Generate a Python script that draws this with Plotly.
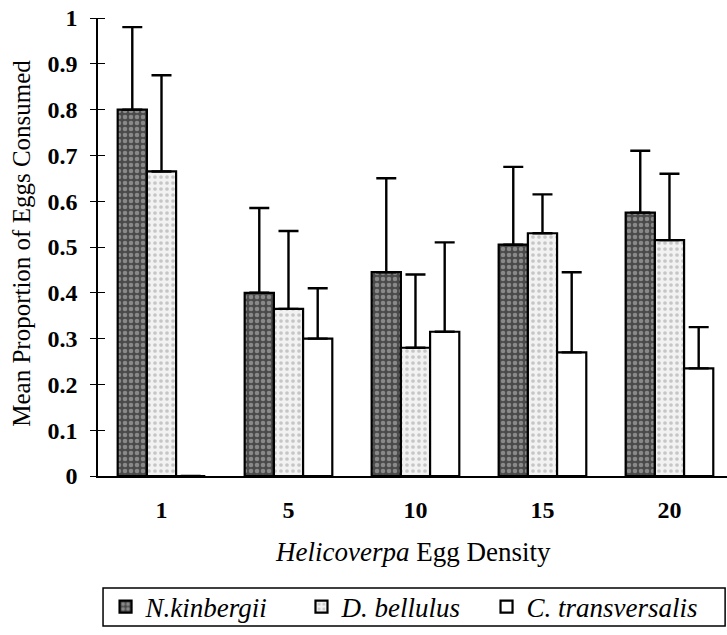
import plotly.graph_objects as go

densities = ["1", "5", "10", "15", "20"]
series_names = ["N.kinbergii", "D. bellulus", "C. transversalis"]
n_kinbergii = [0.80, 0.40, 0.445, 0.505, 0.575]
n_kinbergii_err = [0.18, 0.185, 0.205, 0.17, 0.135]
d_bellulus = [0.665, 0.365, 0.28, 0.53, 0.515]
d_bellulus_err = [0.21, 0.17, 0.16, 0.085, 0.145]
c_transversalis = [0.0, 0.30, 0.315, 0.27, 0.235]
c_transversalis_err = [0.0, 0.11, 0.195, 0.175, 0.09]
y_ticks = [0, 0.1, 0.2, 0.3, 0.4, 0.5, 0.6, 0.7, 0.8, 0.9, 1]

FONT = "Liberation Serif"

styles = [
    dict(pattern=dict(shape=".", bgcolor="#4a4a4a", fgcolor="#c8c8c8", size=6, solidity=0.45)),
    dict(pattern=dict(shape=".", bgcolor="#f2f2f2", fgcolor="#9a9a9a", size=6, solidity=0.3)),
    dict(pattern=dict(shape="", bgcolor="white", fgcolor="white")),
]
legend_ids = ["legend", "legend2", "legend3"]
legend_x = [0.012, 0.3235, 0.6177]

fig = go.Figure()
for name, vals, errs, st, lg in zip(series_names,
                                    [n_kinbergii, d_bellulus, c_transversalis],
                                    [n_kinbergii_err, d_bellulus_err, c_transversalis_err],
                                    styles, legend_ids):
    fig.add_trace(go.Bar(
        x=densities, y=vals, name="<i>" + name + "</i>", legend=lg,
        marker=dict(color="white", line=dict(color="black", width=2.2), pattern=st["pattern"]),
        error_y=dict(type="data", symmetric=False, array=errs,
                     arrayminus=[0] * len(errs), color="black", thickness=2.4, width=10),
    ))

legend_common = dict(orientation="h", xanchor="left", y=-0.286, yanchor="middle",
                     font=dict(family=FONT, size=27, color="black"),
                     itemwidth=30, bgcolor="rgba(0,0,0,0)")

fig.update_layout(
    width=727, height=635,
    margin=dict(l=98, r=0, t=18, b=159),
    plot_bgcolor="white", paper_bgcolor="white",
    barmode="group", bargap=0.31, bargroupgap=0,
    font=dict(family=FONT, size=20, color="black"),
    showlegend=True,
    legend=dict(x=legend_x[0], **legend_common),
    legend2=dict(x=legend_x[1], **legend_common),
    legend3=dict(x=legend_x[2], **legend_common),
    xaxis=dict(type="category", range=[-0.5, 4.453], showline=True, linecolor="black",
               linewidth=1.5, ticks="", ticklabelstandoff=11,
               tickfont=dict(family=FONT, size=24, weight="bold")),
    yaxis=dict(range=[0, 1], tickvals=y_ticks, showline=True, linecolor="black",
               linewidth=1.5, ticks="outside", ticklen=6, tickcolor="black", tickwidth=1.2,
               minor=dict(tickvals=y_ticks, ticks="inside", ticklen=7, tickcolor="black",
                          tickwidth=1.2, showgrid=False),
               showgrid=False, zeroline=False, ticklabelstandoff=8,
               tickfont=dict(family=FONT, size=24, weight="bold")),
    shapes=[dict(type="rect", xref="paper", yref="paper",
                 x0=0.008, x1=0.997, y0=-0.3275, y1=-0.2445,
                 line=dict(color="black", width=1.5), fillcolor="rgba(0,0,0,0)")],
    annotations=[
        dict(text="Mean Proportion of Eggs Consumed", textangle=-90, xref="paper", yref="paper",
             x=-0.121, y=0.509, xanchor="center", yanchor="middle", showarrow=False,
             font=dict(family=FONT, size=25)),
        dict(text="<i>Helicoverpa</i> Egg Density", xref="paper", yref="paper",
             x=0.5, y=-0.166, xanchor="center", yanchor="middle", showarrow=False,
             font=dict(family=FONT, size=27)),
    ],
)

fig.write_html("out.html", config={"displayModeBar": False},
               post_script="document.body.style.margin='0';")
